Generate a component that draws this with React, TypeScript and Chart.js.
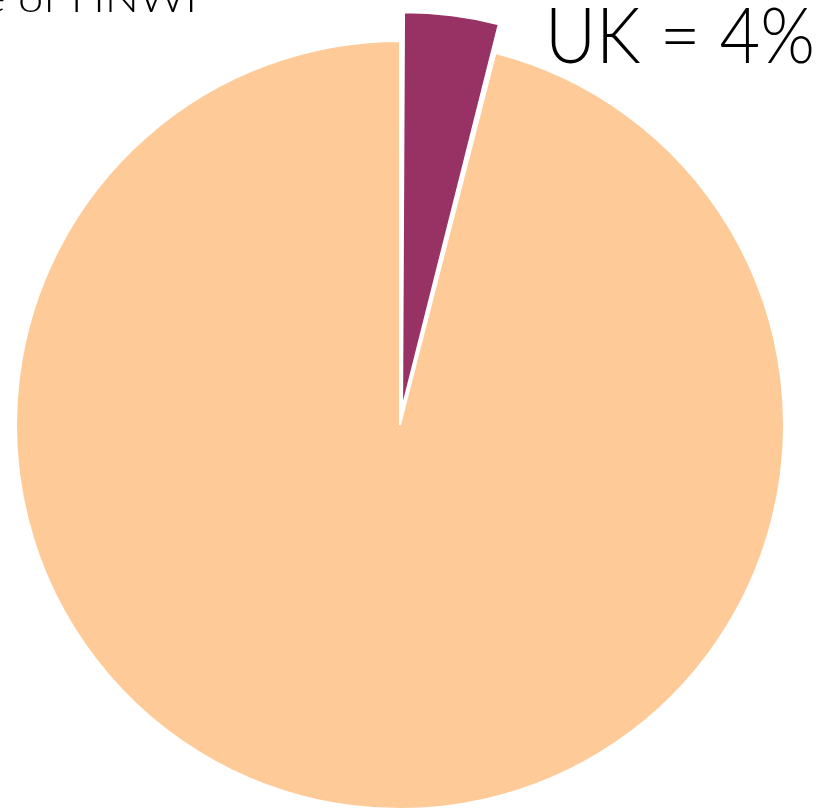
import React, { useEffect, useRef } from "react";
import { Chart, registerables } from "chart.js";

Chart.register(...registerables);

const labels = ["UK", "Rest of world"];
const values = [4, 96];
const colors = ["#983264", "#FECB98"];
const offsets = [66, 0];
const titleText = "Share of HNWI";
const calloutText = "UK = 4%";

function fitText(ctx: CanvasRenderingContext2D, text: string, x: number, y: number, width: number) {
  const w = ctx.measureText(text).width;
  const s = width / w;
  ctx.save();
  ctx.textAlign = "left";
  ctx.translate(x, y);
  ctx.scale(s, 1);
  ctx.fillText(text, 0, 0);
  ctx.restore();
}

export default function App() {
  const ref = useRef<HTMLCanvasElement | null>(null);
  useEffect(() => {
    if (!ref.current) return;
    const textPlugin = {
      id: "texts",
      afterDraw(chart: any) {
        const ctx = chart.ctx as CanvasRenderingContext2D;
        ctx.save();
        ctx.fillStyle = "#000";
        ctx.textBaseline = "alphabetic";
        ctx.font = "300 40px Lato";
        const full = ctx.measureText(titleText).width;
        const tail = ctx.measureText("of HNWI").width;
        const s = 179 / tail;
        ctx.save();
        ctx.translate(197 - full * s, 12);
        ctx.scale(s, 1);
        ctx.fillText(titleText, 0, 0);
        ctx.restore();
        ctx.font = "300 77px Lato";
        fitText(ctx, calloutText, 545, 63, 270);
        ctx.restore();
      },
    };
    const chart = new Chart(ref.current, {
      type: "pie",
      data: {
        labels,
        datasets: [
          {
            data: values,
            backgroundColor: colors,
            borderColor: "#ffffff",
            borderWidth: 2,
            offset: offsets,
          },
        ],
      },
      options: {
        animation: false,
        responsive: false,
        radius: 384,
        layout: { padding: { left: 0, right: 25, top: 41, bottom: 0 } },
        plugins: {
          legend: { display: false },
          tooltip: { enabled: false },
          title: { display: false },
        },
      } as any,
      plugins: [textPlugin],
    });
    return () => chart.destroy();
  }, []);
  return (
    <div style={{ position: "absolute", left: 0, top: 0, width: 825, height: 809 }}>
      <canvas ref={ref} width={825} height={809} style={{ display: "block" }} />
    </div>
  );
}
